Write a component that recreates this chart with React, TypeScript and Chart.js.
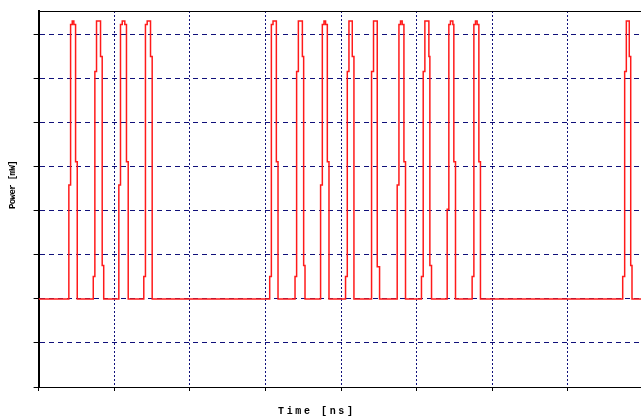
import React, { useEffect, useRef } from 'react';
import { Chart, registerables } from 'chart.js';

Chart.register(...registerables);

// Step-sampled optical pulse train: each time marks where a new power level begins
const timeNs: number[] = [
  0,
  0.400, 0.423, 0.445, 0.466, 0.489, 0.511,
  0.723, 0.744, 0.766, 0.819, 0.841, 0.861,
  1.061, 1.083, 1.106, 1.140, 1.162, 1.185,
  1.391, 1.413, 1.436, 1.480, 1.502,
  3.056, 3.078, 3.100, 3.144, 3.166,
  3.391, 3.412, 3.435, 3.488, 3.505, 3.523,
  3.729, 3.752, 3.774, 3.795, 3.818, 3.840,
  4.059, 4.082, 4.104, 4.148, 4.170,
  4.403, 4.429, 4.478, 4.509,
  4.742, 4.765, 4.786, 4.808, 4.831, 4.852,
  5.063, 5.086, 5.108, 5.161, 5.174, 5.196,
  5.403, 5.425, 5.446, 5.478, 5.491, 5.513,
  5.733, 5.756, 5.777, 5.799, 5.822, 5.843,
  7.724, 7.750, 7.772, 7.811, 7.830, 7.847,
  7.966,
];

const powerMw: number[] = [
  0,
  2.59, 6.24, 6.32, 6.24, 3.12, 0,
  0.51, 5.17, 6.32, 5.51, 0.76, 0,
  2.59, 6.24, 6.32, 6.24, 3.12, 0,
  0.51, 6.24, 6.32, 5.51, 0,
  0.51, 6.24, 6.32, 3.12, 0,
  0.51, 5.17, 6.32, 5.51, 0.76, 0,
  2.59, 6.24, 6.32, 6.24, 3.12, 0,
  0.51, 5.17, 6.32, 5.51, 0,
  5.17, 6.32, 0.73, 0,
  2.59, 6.24, 6.32, 6.24, 3.12, 0,
  0.51, 5.17, 6.32, 5.51, 0.76, 0,
  2.04, 6.24, 6.32, 6.24, 3.12, 0,
  0.51, 6.24, 6.32, 6.24, 3.12, 0,
  0.51, 5.17, 6.32, 5.51, 0.76, 0,
  0,
];

const xMin = 0;
const xMax = 7.966;
const yMin = -2;
const yMax = 6.545;
const xTitle = 'Time [ns]';
const yTitle = 'Power [mW]';

const GRID = '#10107a';
const FONT = "'Liberation Mono', 'DejaVu Sans Mono', monospace";

const integerTicks = (scale: any) => {
  scale.ticks = scale.ticks.filter((t: any) => Math.abs(t.value - Math.round(t.value)) < 1e-6);
};

// wrap a scale's title drawing to set letter spacing and a small offset
const styleTitle = (scale: any, spacing: string, dx: number, dy: number) => {
  const orig = scale.drawTitle.bind(scale);
  scale.drawTitle = () => {
    const c: any = scale.ctx;
    c.save();
    c.letterSpacing = spacing;
    c.translate(dx, dy);
    orig();
    c.restore();
  };
};

export default function App() {
  const ref = useRef<HTMLCanvasElement>(null);

  useEffect(() => {
    const canvas = ref.current;
    if (!canvas) return;
    const chart = new Chart(canvas, {
      type: 'line',
      data: {
        datasets: [
          {
            data: timeNs.map((t, i) => ({ x: t, y: powerMw[i] })),
            borderColor: '#ff1a1a',
            borderWidth: 1.5,
            pointRadius: 0,
            stepped: 'before',
            fill: false,
            tension: 0,
          },
        ],
      },
      options: {
        responsive: false,
        animation: false,
        devicePixelRatio: 1,
        layout: { autoPadding: false, padding: { left: 3.4, top: 11, right: 0, bottom: 0 } },
        plugins: { legend: { display: false }, tooltip: { enabled: false } },
        scales: {
          x: {
            type: 'linear',
            position: 'bottom',
            min: xMin,
            max: xMax,
            afterBuildTicks: integerTicks,
            ticks: { display: false, stepSize: 1 },
            grid: { color: GRID, lineWidth: 1, drawTicks: true, tickLength: 4, tickColor: '#000', tickWidth: 1 },
            border: { display: true, color: '#000', width: 1, dash: [2, 2] },
            title: {
              display: true,
              text: xTitle,
              color: '#000',
              font: { family: FONT, size: 10, weight: 'bold' },
              padding: { top: 14, bottom: 2 },
            },
          },
          x2: {
            type: 'linear',
            position: 'top',
            min: xMin,
            max: xMax,
            ticks: { display: false },
            grid: { display: false, drawTicks: false },
            border: { display: true, color: '#000', width: 1 },
          },
          y: {
            type: 'linear',
            position: 'left',
            min: yMin,
            max: yMax,
            afterBuildTicks: integerTicks,
            ticks: { display: false, stepSize: 1 },
            grid: { color: GRID, lineWidth: 1, drawTicks: true, tickLength: 5, tickColor: '#000', tickWidth: 1 },
            border: { display: true, color: '#000', width: 2, dash: [5, 4] },
            title: {
              display: true,
              text: yTitle,
              color: '#000',
              font: { family: FONT, size: 9, weight: 'bold' },
              padding: { top: 3.5, bottom: 15.9 },
            },
          },
        },
      },
    } as any);

    styleTitle(chart.scales.x, '2.6px', -23, 0);
    styleTitle(chart.scales.y, '-0.6px', 0, -14);
    chart.draw();

    return () => chart.destroy();
  }, []);

  return (
    <div style={{ position: 'absolute', left: 0, top: 0, width: 641, height: 419, background: '#fff' }}>
      <canvas ref={ref} width={641} height={419} style={{ display: 'block' }} />
    </div>
  );
}
